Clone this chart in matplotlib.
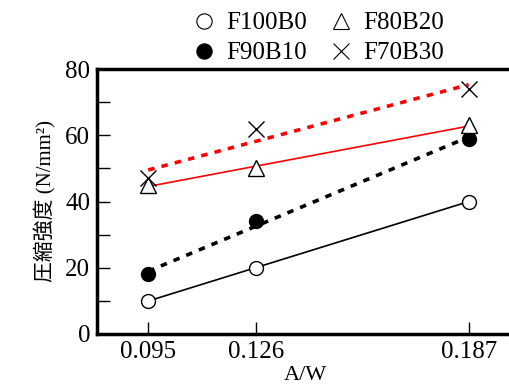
import matplotlib.pyplot as plt
import numpy as np

plt.rcParams['font.family'] = ['Liberation Serif', 'Noto Sans CJK JP']

aw = [0.095, 0.126, 0.187]
f100b0 = [10, 20, 40]
f90b10 = [18, 34, 59]
f80b20 = [45, 50, 63]
f70b30 = [47, 62, 74]
x_ticks = [0.095, 0.126, 0.187]
x_labels = ['0.095', '0.126', '0.187']

fig = plt.figure(figsize=(5.09, 3.87), dpi=100)
ax = fig.add_axes([97 / 509, 53 / 387, 417 / 509, 265 / 387])

x = np.array(aw)


def trend(y):
    # linear fit through the three points
    k, b = np.polyfit(x, y, 1)
    return k * x + b


ax.plot(x, trend(f100b0), color='black', lw=1.2, zorder=2)
ax.plot(x, trend(f90b10), color='black', lw=2.6, ls=(0, (1.8, 2.0)), zorder=2)
ax.plot(x, trend(f80b20), color='red', lw=1.2, zorder=2)
ax.plot(x, trend(f70b30), color='red', lw=2.6, ls=(0, (1.8, 2.0)), zorder=2)

ax.plot(x, f100b0, 'o', ms=10, mfc='white', mec='black', mew=1.0, zorder=3, label='F100B0')
ax.plot(x, f90b10, 'o', ms=10, mfc='black', mec='black', mew=1.0, zorder=3, label='F90B10')
ax.plot(x, f80b20, '^', ms=11, mfc='white', mec='black', mew=1.0, zorder=3, label='F80B20')
ax.plot(x, f70b30, 'x', ms=11, color='black', mew=1.0, zorder=4, label='F70B30')

ax.set_xlim(0.0803, 0.2)
ax.set_ylim(0, 80)
ax.set_xticks(x_ticks)
ax.set_xticklabels(x_labels)
ax.set_yticks([0, 20, 40, 60, 80])
ax.set_yticks([10, 30, 50, 70], minor=True)
ax.tick_params(direction='in', length=9, width=1, labelsize=18, pad=5)
ax.tick_params(which='minor', direction='in', length=9, width=1)
ax.tick_params(axis='x', which='minor', bottom=False)
for s in ax.spines.values():
    s.set_linewidth(2.5)
ax.spines['right'].set_visible(False)

ax.set_xlabel('A/W', fontsize=16, labelpad=2)
ax.set_ylabel('圧縮強度 (N/mm²)', fontsize=15, labelpad=6)

leg = ax.legend(ncol=2, loc='lower center', bbox_to_anchor=(0.527, 0.97), frameon=False,
                fontsize=18, handletextpad=0.3, columnspacing=0.75, labelspacing=0.3,
                handlelength=1.2, borderaxespad=0.1, markerscale=1.1)
for h in leg.legend_handles:
    h.set_markeredgewidth(0.8)

fig.savefig('out.png', dpi=100)
